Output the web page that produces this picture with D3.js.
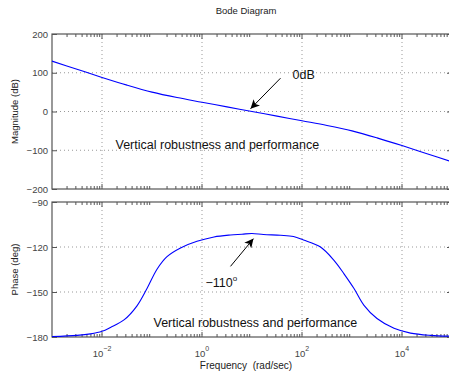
<!DOCTYPE html>
<html>
<head>
<meta charset="utf-8">
<script src="https://cdn.jsdelivr.net/npm/d3@7"></script>
<style>
  body { margin: 0; background: #fff; }
  svg { font-family: "Liberation Sans", Arial, Helvetica, sans-serif; }
</style>
</head>
<body>
<svg width="449" height="376"></svg>
<script>
// log10 of frequency (rad/sec) where values were read
const magLogW = [-3, -2.5, -2, -1.5, -1, -0.5, 0, 0.5, 1, 1.5, 2, 2.5, 3, 3.5, 4, 4.5, 5]
const magDb = [130, 109, 88, 68, 50, 36, 24, 12, 0, -12, -24, -36, -50, -68, -88, -109, -130]

const phaseLogW = [-3, -2.5, -2.23, -2, -1.83, -1.56, -1.3, -1.1, -0.9, -0.7, -0.43, -0.1, 0.24, 0.57, 0.8, 1.0, 1.23, 1.57, 1.83, 2.03, 2.37, 2.64, 2.84, 3.04, 3.24, 3.5, 3.84, 4.17, 4.57, 5]
const phaseDeg = [-179.7, -178.9, -177.9, -176.2, -173.6, -168.6, -159.2, -147.7, -134.8, -126.4, -120.6, -116.2, -113.3, -112.0, -111.5, -111.0, -111.7, -112.2, -113.0, -115.3, -120.0, -128.9, -137.9, -147.7, -158.9, -167.7, -174.2, -177.4, -178.9, -179.5]

const freqTickExp = [-2, 0, 2, 4]
const magTicks = [-200, -100, 0, 100, 200]
const phaseTicks = [-180, -150, -120, -90]

const title = 'Bode Diagram'
const xLabel = 'Frequency  (rad/sec)'
const magLabel = 'Magnitude (dB)'
const phaseLabel = 'Phase (deg)'
const noteText = 'Vertical robustness and performance'

const svg = d3.select('svg')
const frameColor = '#555'
const textColor = '#444'

const x = d3.scaleLog().domain([1e-3, 1e5]).range([52, 452])
const yMag = d3.scaleLinear().domain([-200, 200]).range([189, 34])
const yPh = d3.scaleLinear().domain([-180, -90]).range([337, 202])

const majorX = freqTickExp.map(e => Math.pow(10, e))
const minorX = x.ticks().filter(t => Math.abs(Math.log10(t) - Math.round(Math.log10(t))) > 1e-6)

svg.append('defs').append('marker')
  .attr('id', 'head')
  .attr('viewBox', '0 0 10 10')
  .attr('refX', 10).attr('refY', 5)
  .attr('markerWidth', 9).attr('markerHeight', 9)
  .attr('markerUnits', 'userSpaceOnUse')
  .attr('orient', 'auto')
  .append('path')
  .attr('d', 'M0,0 L10,5 L0,10 L2.5,5 Z')
  .attr('fill', '#000')

function panel(y, ticks) {
  const top = y.range()[1], bottom = y.range()[0]
  const left = x.range()[0], right = x.range()[1]
  const g = svg.append('g')

  // dotted grid
  g.selectAll('line.gx').data(majorX).join('line')
    .attr('x1', d => x(d)).attr('x2', d => x(d))
    .attr('y1', top).attr('y2', bottom)
    .attr('stroke', '#999').attr('stroke-dasharray', '1,3')
  g.selectAll('line.gy').data(ticks.slice(1, -1)).join('line')
    .attr('x1', left).attr('x2', right)
    .attr('y1', d => y(d)).attr('y2', d => y(d))
    .attr('stroke', '#999').attr('stroke-dasharray', '1,3')

  // inward ticks
  const ax = g.append('g').attr('transform', `translate(${left},0)`)
    .call(d3.axisLeft(y).tickValues(ticks).tickSizeInner(-5).tickSizeOuter(0).tickPadding(4)
      .tickFormat(d => d < 0 ? '\u2212' + Math.abs(d) : d))
  ax.select('.domain').remove()
  ax.selectAll('line').attr('stroke', frameColor)
  ax.selectAll('text').attr('fill', textColor).style('font-size', '9.5px').attr('font-family', null)

  g.append('g').attr('transform', `translate(${right},0)`)
    .call(d3.axisRight(y).tickValues(ticks).tickSizeInner(-5).tickSizeOuter(0).tickFormat(''))
    .call(s => s.select('.domain').remove())
    .selectAll('line').attr('stroke', frameColor)

  const tickRows = [[bottom, 1], [top, -1]]
  tickRows.forEach(([yy, dir]) => {
    g.selectAll(null).data(majorX).join('line')
      .attr('x1', d => x(d)).attr('x2', d => x(d))
      .attr('y1', yy).attr('y2', yy - 5 * dir).attr('stroke', frameColor)
    g.selectAll(null).data(minorX).join('line')
      .attr('x1', d => x(d)).attr('x2', d => x(d))
      .attr('y1', yy).attr('y2', yy - 3 * dir).attr('stroke', frameColor)
  })

  g.append('rect')
    .attr('x', left).attr('y', top)
    .attr('width', right - left).attr('height', bottom - top)
    .attr('fill', 'none').attr('stroke', frameColor).attr('stroke-width', 1.2)
  return g
}

panel(yMag, magTicks)
panel(yPh, phaseTicks)

// curves
const magLine = d3.line()
  .x((d, i) => x(Math.pow(10, magLogW[i])))
  .y(d => yMag(d))
  .curve(d3.curveCatmullRom.alpha(0.5))
svg.append('path').attr('d', magLine(magDb))
  .attr('fill', 'none').attr('stroke', '#0000ff').attr('stroke-width', 1.1)

const phLine = d3.line()
  .x((d, i) => x(Math.pow(10, phaseLogW[i])))
  .y(d => yPh(d))
  .curve(d3.curveCatmullRom.alpha(0.5))
svg.append('path').attr('d', phLine(phaseDeg))
  .attr('fill', 'none').attr('stroke', '#0000ff').attr('stroke-width', 1.1)

// frequency tick labels 10^n
const xl = svg.append('g').selectAll('text').data(freqTickExp).join('text')
  .attr('x', d => x(Math.pow(10, d)))
  .attr('y', 357)
  .attr('text-anchor', 'middle')
  .attr('fill', textColor)
  .style('font-size', '9.5px')
xl.append('tspan').text('10')
xl.append('tspan').attr('dy', -6).style('font-size', '7px').text(d => d < 0 ? '\u2212' + Math.abs(d) : d)

// titles
svg.append('text').attr('x', 246).attr('y', 14).attr('text-anchor', 'middle')
  .style('font-size', '9.5px').attr('fill', '#222').text(title)
svg.append('text').attr('x', 246).attr('y', 369).attr('text-anchor', 'middle')
  .style('font-size', '10px').attr('fill', '#222').attr('xml:space', 'preserve')
  .style('white-space', 'pre').text(xLabel)
svg.append('text').attr('transform', `translate(18,${(yMag.range()[0] + yMag.range()[1]) / 2}) rotate(-90)`)
  .attr('text-anchor', 'middle').style('font-size', '9.5px').attr('fill', '#222').text(magLabel)
svg.append('text').attr('transform', `translate(18,${(yPh.range()[0] + yPh.range()[1]) / 2}) rotate(-90)`)
  .attr('text-anchor', 'middle').style('font-size', '9.5px').attr('fill', '#222').text(phaseLabel)

// annotations
svg.append('text').attr('x', x(Math.pow(10, -1.73))).attr('y', yMag(-98))
  .style('font-size', '12.5px').attr('fill', '#111').text(noteText)
svg.append('text').attr('x', x(Math.pow(10, -0.97))).attr('y', yPh(-173.3))
  .style('font-size', '12.5px').attr('fill', '#111').text(noteText)

svg.append('line')
  .attr('x1', x(Math.pow(10, 1.57))).attr('y1', yMag(86))
  .attr('x2', x(Math.pow(10, 0.97))).attr('y2', yMag(7))
  .attr('stroke', '#000').attr('stroke-width', 1).attr('marker-end', 'url(#head)')
svg.append('text').attr('x', x(Math.pow(10, 1.81))).attr('y', yMag(84))
  .style('font-size', '12.5px').attr('fill', '#111').text('0dB')

svg.append('line')
  .attr('x1', x(Math.pow(10, 0.57))).attr('y1', yPh(-132.9))
  .attr('x2', x(Math.pow(10, 1.03))).attr('y2', yPh(-114.4))
  .attr('stroke', '#000').attr('stroke-width', 1).attr('marker-end', 'url(#head)')
const ph = svg.append('text').attr('x', x(Math.pow(10, 0.07))).attr('y', yPh(-146.7))
  .style('font-size', '12.5px').attr('fill', '#111')
ph.append('tspan').text('\u2212110')
ph.append('tspan').attr('dy', -6).style('font-size', '8px').text('o')
</script>
</body>
</html>
